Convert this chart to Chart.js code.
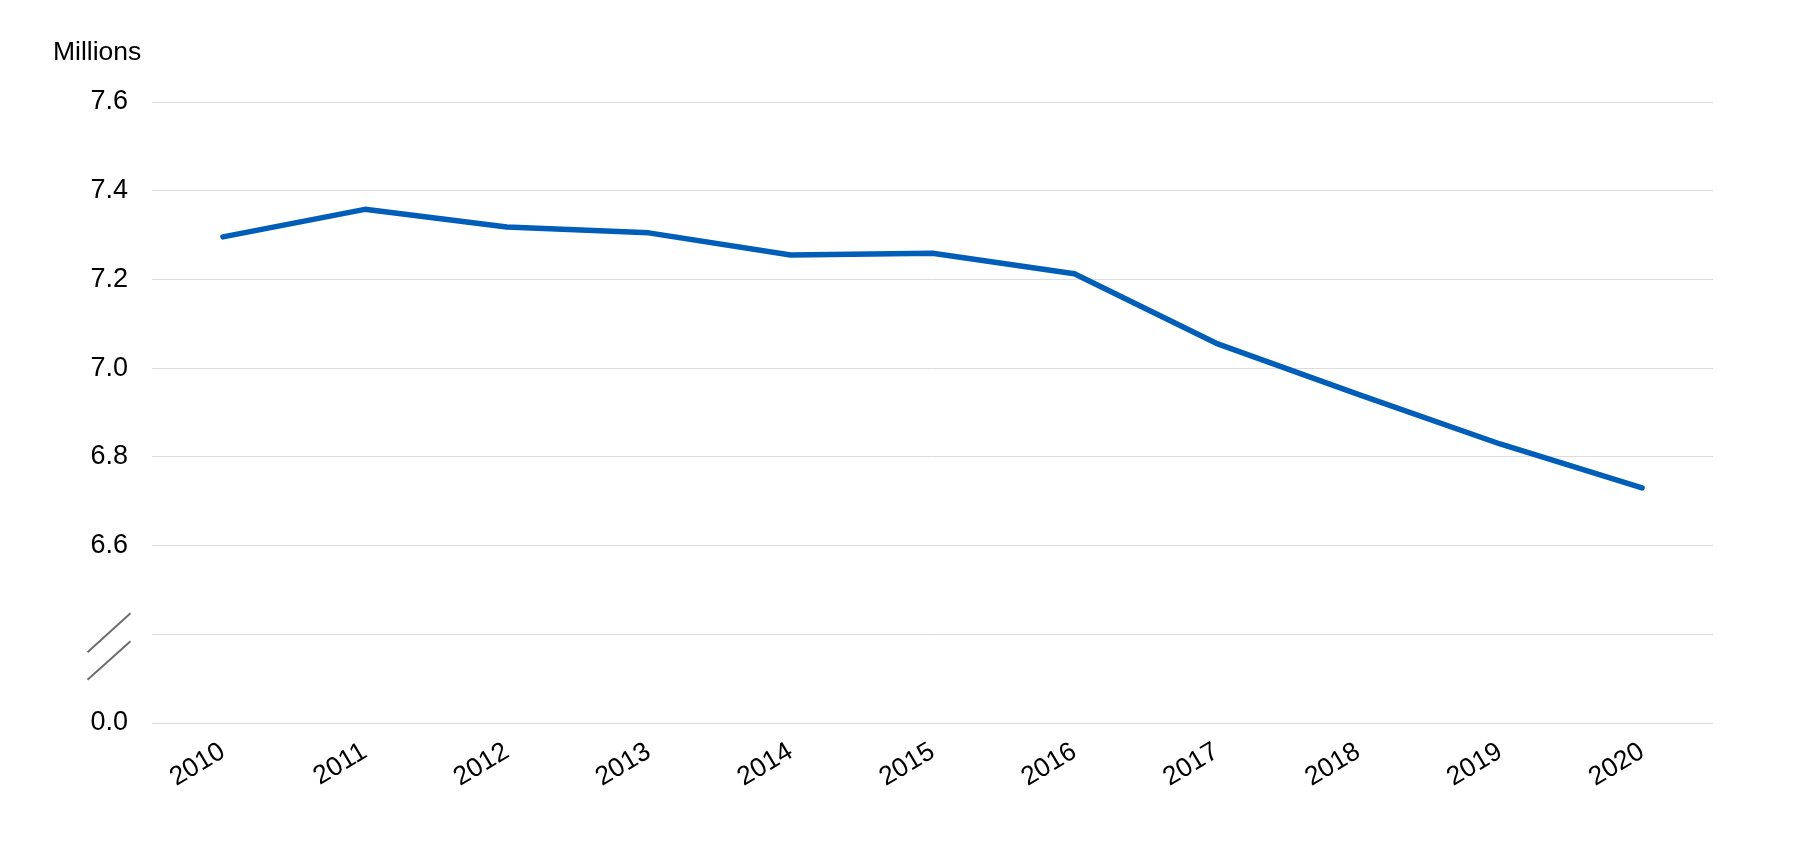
<!DOCTYPE html>
<html>
<head>
<meta charset="utf-8">
<script src="https://cdn.jsdelivr.net/npm/chart.js@4/dist/chart.umd.min.js"></script>
<style>
  html, body { margin: 0; padding: 0; background: #ffffff; }
  #wrap { width: 1819px; height: 844px; }
</style>
</head>
<body>
<div id="wrap"><canvas id="c" width="1819" height="844"></canvas></div>
<script>
// ---- data ----
const years = ['2010', '2011', '2012', '2013', '2014', '2015', '2016', '2017', '2018', '2019', '2020'];
const population = [7.296, 7.358, 7.318, 7.305, 7.255, 7.259, 7.213, 7.056, 6.941, 6.829, 6.730];
// broken axis: lowest position stands for 0.0, next one is the unlabeled break gridline
const yTickValues = [6.2, 6.4, 6.6, 6.8, 7.0, 7.2, 7.4, 7.6];
const yTickLabels = ['0.0', '', '6.6', '6.8', '7.0', '7.2', '7.4', '7.6'];
const unitLabel = 'Millions';

const FONT = '"Liberation Sans", Arial, sans-serif';
const SIZE = 27;

const decorPlugin = {
  id: 'decor',
  afterDraw(chart) {
    const ctx = chart.ctx;
    const y = chart.scales.y;
    const area = chart.chartArea;
    // unit label
    ctx.save();
    ctx.font = '26.5px ' + FONT;
    ctx.fillStyle = '#000000';
    ctx.textAlign = 'left';
    ctx.textBaseline = 'alphabetic';
    ctx.fillText(unitLabel, 53, 59.5);
    // axis break marks around the break gridline
    const yb = y.getPixelForValue(yTickValues[1]);
    const x0 = area.left - 64.5, x1 = area.left - 21.5;
    ctx.strokeStyle = '#6e6e6e';
    ctx.lineWidth = 2;
    ctx.beginPath();
    ctx.moveTo(x0, yb + 18); ctx.lineTo(x1, yb - 21);
    ctx.moveTo(x0, yb + 45.5); ctx.lineTo(x1, yb + 7);
    ctx.stroke();
    ctx.restore();
  }
};

new Chart(document.getElementById('c'), {
  type: 'line',
  data: {
    labels: years,
    datasets: [{
      data: population,
      borderColor: '#005EB8',
      borderWidth: 5.5,
      borderCapStyle: 'round',
      borderJoinStyle: 'round',
      pointRadius: 0,
      pointHoverRadius: 0,
      tension: 0,
      fill: false
    }]
  },
  options: {
    responsive: false,
    animation: false,
    events: [],
    layout: { padding: { top: 102, right: 106, bottom: 0, left: 0 } },
    plugins: { legend: { display: false }, tooltip: { enabled: false }, title: { display: false } },
    scales: {
      x: {
        offset: true,
        grid: { display: false, drawTicks: false },
        border: { display: false },
        ticks: {
          color: '#000000',
          font: { family: FONT, size: 26.5 },
          minRotation: 31,
          maxRotation: 31,
          padding: 13,
          autoSkip: false
        },
        afterFit(scale) { scale.height = 121; }
      },
      y: {
        min: 6.2,
        max: 7.6,
        afterBuildTicks(scale) { scale.ticks = yTickValues.map(v => ({ value: v })); },
        grid: { color: '#dcdcdc', lineWidth: 1, drawTicks: false },
        border: { display: false },
        ticks: {
          color: '#000000',
          font: { family: FONT, size: SIZE },
          padding: 24,
          callback: (v, i) => yTickLabels[i]
        },
        afterFit(scale) { scale.width = 152; }
      }
    }
  },
  plugins: [decorPlugin]
});
</script>
</body>
</html>
